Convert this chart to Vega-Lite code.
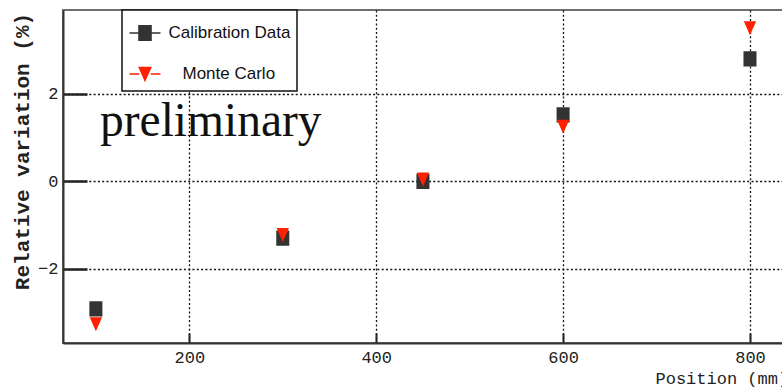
{
  "$schema": "https://vega.github.io/schema/vega-lite/v6.json",
  "width": 721,
  "height": 333,
  "autosize": "none",
  "padding": {"left": 63, "top": 10, "right": 0, "bottom": 44},
  "background": "white",
  "config": {"view": {"stroke": "#6e6e6e", "strokeWidth": 2}},
  "datasets": {
    "points": [
      {"series": "Calibration Data", "position": 100, "variation": -2.92},
      {"series": "Calibration Data", "position": 300, "variation": -1.30},
      {"series": "Calibration Data", "position": 450, "variation": 0.0},
      {"series": "Calibration Data", "position": 600, "variation": 1.52},
      {"series": "Calibration Data", "position": 800, "variation": 2.80},
      {"series": "Monte Carlo", "position": 100, "variation": -3.27},
      {"series": "Monte Carlo", "position": 300, "variation": -1.23},
      {"series": "Monte Carlo", "position": 450, "variation": 0.04},
      {"series": "Monte Carlo", "position": 600, "variation": 1.25},
      {"series": "Monte Carlo", "position": 800, "variation": 3.50}
    ],
    "notes": [{"position": 104.4, "variation": 1.04, "text": "preliminary"}]
  },
  "layer": [
    {
      "data": {"name": "points"},
      "mark": {"type": "point", "filled": true, "opacity": 1, "size": 1115, "strokeWidth": 0},
      "encoding": {
        "x": {
          "field": "position", "type": "quantitative",
          "scale": {"domain": [64.8, 836.4], "nice": false, "zero": false},
          "axis": {
            "values": [200, 400, 600, 800],
            "grid": true, "gridColor": "#111", "gridDash": [2, 2.3], "gridWidth": 1.3,
            "domainColor": "#333", "domainWidth": 2,
            "tickColor": "#222", "tickWidth": 2, "tickSize": -10,
            "labelPadding": 16, "labelFont": "Liberation Mono", "labelFontSize": 17, "labelColor": "#222",
            "labelFlush": false, "labelOverlap": false,
            "title": "Position (mm)", "titleFont": "Liberation Mono", "titleFontSize": 17,
            "titleFontWeight": "normal", "titleColor": "#222",
            "titleAnchor": "start", "titleAlign": "left", "titleX": 592, "titleY": 40, "titleBaseline": "alphabetic"
          }
        },
        "y": {
          "field": "variation", "type": "quantitative",
          "scale": {"domain": [-3.70, 3.92], "nice": false, "zero": false},
          "axis": {
            "values": [-2, 0, 2],
            "grid": true, "gridColor": "#111", "gridDash": [2, 2.3], "gridWidth": 1.3,
            "domainColor": "#333", "domainWidth": 2,
            "tickColor": "#222", "tickWidth": 2.5, "tickSize": -24,
            "labelPadding": 29, "labelFont": "Liberation Mono", "labelFontSize": 17, "labelColor": "#222",
            "labelFlush": false, "labelOverlap": false,
            "title": "Relative variation (%)", "titleFont": "Liberation Mono", "titleFontSize": 21,
            "titleFontWeight": "bold", "titleColor": "#222",
            "titleAnchor": "middle", "titleAlign": "center", "titleAngle": -90,
            "titleX": -35, "titleY": 141, "titleBaseline": "alphabetic"
          }
        },
        "color": {
          "field": "series", "type": "nominal",
          "scale": {"domain": ["Calibration Data", "Monte Carlo"], "range": ["#333333", "#ff2000"]},
          "legend": {
            "title": null, "orient": "none", "legendX": 59, "legendY": 0,
            "padding": 6.5, "rowPadding": 14, "symbolSize": 961, "labelOffset": 7,
            "labelFont": "Liberation Sans", "labelFontSize": 17, "labelColor": "#111", "labelLimit": 400,
            "strokeColor": "#111", "fillColor": "white",
            "encoding": {
              "legend": {"strokeWidth": {"value": 1.5}},
              "labels": {"dx": {"value": {"expr": "datum.value == 'Monte Carlo' ? 14 : 0"}}},
              "symbols": {
                "stroke": {"value": {"expr": "scale('color', datum.value)"}},
                "strokeWidth": {"value": 1.5},
                "size": {"value": 961}
              }
            }
          }
        },
        "shape": {
          "field": "series", "type": "nominal",
          "scale": {
            "domain": ["Calibration Data", "Monte Carlo"],
            "range": [
              "M-1,0H-0.39M0.39,0H1M-0.39,-0.46H0.39V0.46H-0.39Z",
              "M-1,0H-0.37M0.37,0H1M-0.37,-0.42H0.37L0,0.42Z"
            ]
          },
          "legend": {
            "title": null, "orient": "none", "legendX": 59, "legendY": 0,
            "padding": 6.5, "rowPadding": 14, "symbolSize": 961, "labelOffset": 7,
            "labelFont": "Liberation Sans", "labelFontSize": 17, "labelColor": "#111", "labelLimit": 400,
            "strokeColor": "#111", "fillColor": "white",
            "encoding": {
              "legend": {"strokeWidth": {"value": 1.5}},
              "labels": {"dx": {"value": {"expr": "datum.value == 'Monte Carlo' ? 14 : 0"}}},
              "symbols": {
                "stroke": {"value": {"expr": "scale('color', datum.value)"}},
                "strokeWidth": {"value": 1.5},
                "size": {"value": 961}
              }
            }
          }
        }
      }
    },
    {
      "data": {"name": "notes"},
      "mark": {"type": "text", "font": "Liberation Serif", "fontSize": 47.5, "align": "left", "baseline": "alphabetic", "color": "#111"},
      "encoding": {
        "x": {"field": "position", "type": "quantitative", "scale": {"domain": [64.8, 836.4], "nice": false, "zero": false}},
        "y": {"field": "variation", "type": "quantitative", "scale": {"domain": [-3.70, 3.92], "nice": false, "zero": false}},
        "text": {"field": "text", "type": "nominal"}
      }
    }
  ]
}
